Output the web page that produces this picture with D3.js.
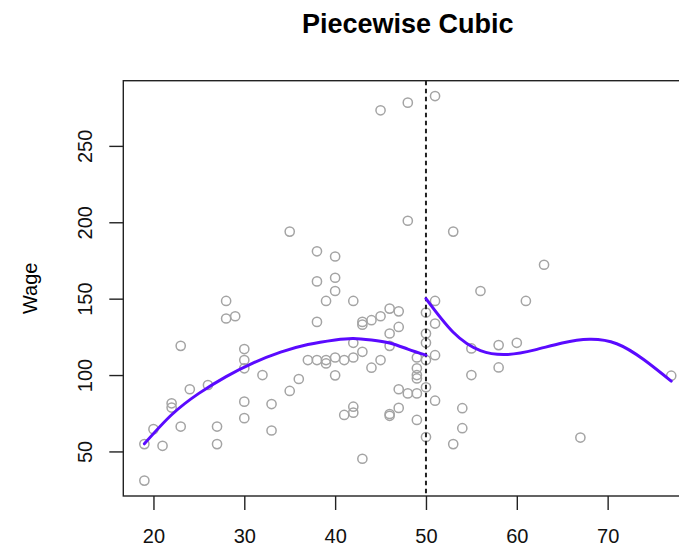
<!DOCTYPE html>
<html>
<head>
<meta charset="utf-8">
<script src="https://cdn.jsdelivr.net/npm/d3@7"></script>
<style>
    body { margin: 0; background: #fff; }
    text { font-family: "Liberation Sans", Arial, sans-serif; }
</style>
</head>
<body>
<div id="chart-container"></div>
<script>
// Scatter data (age, wage)
const ages = [19, 19, 20, 21, 22, 22, 23, 23, 24, 26, 27, 27, 28, 28, 29,
    30, 30, 30, 30, 30, 32, 33, 33, 35, 35, 36, 37, 38, 38, 38, 38,
    39, 39, 39, 40, 40, 40, 40, 40, 41, 41, 42, 42, 42, 42, 42,
    43, 43, 43, 43, 44, 44, 45, 45, 45, 46, 46, 46, 46, 46,
    47, 47, 47, 47, 48, 48, 48, 49, 49, 49, 49, 49, 49,
    50, 50, 50, 50, 50, 50, 51, 51, 51, 51, 51, 53, 53, 54, 54,
    55, 55, 56, 58, 58, 60, 61, 63, 67, 77];
const wages = [54.8, 30.9, 64.6, 53.7, 81.5, 78.7, 119.1, 66.3, 90.7, 93.5, 66.3, 54.8, 148.5, 137, 138.5,
    117, 109.8, 104.4, 82.6, 71.8, 100, 81, 63.7, 193.9, 89.6, 97.4, 109.8, 181, 161.3, 134.8, 109.8,
    148.5, 109.8, 107.6, 177.6, 163.7, 155, 111.5, 99.8, 109.8, 73.9, 148.5, 121.1, 111.5, 79.3, 75.4,
    134.8, 133, 115.2, 45.2, 135.9, 104.8, 273.3, 138.5, 109.8, 143.5, 127.2, 119.1, 74.5, 73.3,
    141.7, 131.5, 90.7, 78.5, 278.3, 201, 88, 111.5, 104.4, 100, 97.8, 88, 70.6,
    140.9, 127.2, 121.1, 109.8, 92, 59.4, 282.6, 148.5, 133.7, 113, 83.2, 193.9, 54.8, 78.3, 65.2,
    117.4, 100, 155, 119.6, 105, 121.1, 148.5, 172.2, 59.1, 99.6];

// Fitted piecewise cubic, knot at 50
const leftFitAge = [19, 22, 25, 28, 31, 34, 37, 40, 42, 44, 46, 48, 50];
const leftFitWage = [55, 74, 88, 99, 108, 115, 120, 123, 124, 123, 121, 117, 113];
const rightFitAge = [50, 53, 56, 59, 62, 65, 68, 71, 74, 77];
const rightFitWage = [150, 128, 116, 113.5, 116.5, 121, 123.4, 120.5, 110, 96];

const knot = 50;
const xTicks = [20, 30, 40, 50, 60, 70];
const yTicks = [50, 100, 150, 200, 250];

const width = 679, height = 549;
const margin = { top: 80.7, right: -13.3, bottom: 53, left: 123.3 };

const svg = d3.select("#chart-container")
    .append("svg")
    .attr("width", width)
    .attr("height", height);

// R style: data range padded by 4% on each side
function padded(ext) {
    const d = (ext[1] - ext[0]) * 0.04;
    return [ext[0] - d, ext[1] + d];
}

const x = d3.scaleLinear()
    .domain(padded(d3.extent(ages)))
    .range([margin.left, width - margin.right]);
const y = d3.scaleLinear()
    .domain(padded(d3.extent(wages)))
    .range([height - margin.bottom, margin.top]);

const points = ages.map((a, i) => ({ age: a, wage: wages[i] }));

// Points
svg.append("g")
    .selectAll("circle")
    .data(points)
    .enter().append("circle")
    .attr("cx", d => x(d.age))
    .attr("cy", d => y(d.wage))
    .attr("r", 4.6)
    .attr("fill", "none")
    .attr("stroke", "#a4a4a4")
    .attr("stroke-width", 1.5);

// Knot
svg.append("line")
    .attr("x1", x(knot)).attr("x2", x(knot))
    .attr("y1", margin.top).attr("y2", height - margin.bottom)
    .attr("stroke", "#222")
    .attr("stroke-width", 2)
    .attr("stroke-dasharray", "4.5,3.5");

// Fit lines
const line = d3.line()
    .x(d => x(d[0]))
    .y(d => y(d[1]))
    .curve(d3.curveNatural);

[[leftFitAge, leftFitWage], [rightFitAge, rightFitWage]].forEach(([a, w]) => {
    svg.append("path")
        .datum(a.map((v, i) => [v, w[i]]))
        .attr("fill", "none")
        .attr("stroke", "#5a0aff")
        .attr("stroke-width", 3)
        .attr("stroke-linecap", "round")
        .attr("d", line);
});

// Box
svg.append("rect")
    .attr("x", margin.left)
    .attr("y", margin.top)
    .attr("width", width - margin.right - margin.left)
    .attr("height", height - margin.bottom - margin.top)
    .attr("fill", "none")
    .attr("stroke", "#222")
    .attr("stroke-width", 1.4);

// x axis
const xAxis = svg.append("g")
    .attr("transform", `translate(0,${height - margin.bottom})`)
    .call(d3.axisBottom(x).tickValues(xTicks).tickSize(14).tickPadding(19));
xAxis.select(".domain").remove();
xAxis.selectAll("line").attr("stroke", "#222").attr("stroke-width", 1.4);
xAxis.selectAll("text").attr("font-size", 20).attr("fill", "#111");

// y axis, labels parallel to the axis
const yAxis = svg.append("g")
    .attr("transform", `translate(${margin.left},0)`)
    .call(d3.axisLeft(y).tickValues(yTicks).tickSize(14));
yAxis.select(".domain").remove();
yAxis.selectAll("line").attr("stroke", "#222").attr("stroke-width", 1.4);
yAxis.selectAll("text")
    .attr("x", null).attr("dy", null)
    .attr("font-size", 20).attr("fill", "#111")
    .attr("text-anchor", "middle")
    .attr("transform", "translate(-31,0) rotate(-90)");

// Titles
svg.append("text")
    .attr("x", (margin.left + width - margin.right) / 2)
    .attr("y", 33)
    .attr("text-anchor", "middle")
    .attr("font-size", 27)
    .attr("font-weight", "bold")
    .text("Piecewise Cubic");

svg.append("text")
    .attr("transform", `translate(37,${(margin.top + height - margin.bottom) / 2}) rotate(-90)`)
    .attr("text-anchor", "middle")
    .attr("font-size", 20)
    .text("Wage");
</script>
</body>
</html>
